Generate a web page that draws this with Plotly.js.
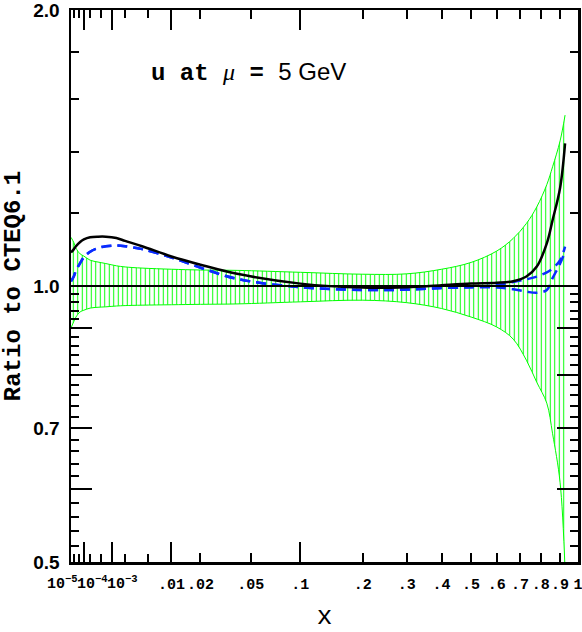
<!DOCTYPE html>
<html>
<head>
<meta charset="utf-8">
<script src="https://cdn.plot.ly/plotly-3.0.1.min.js"></script>
<style>
  body { margin: 0; background: #fff; }
  #chart { width: 582px; height: 632px; }
</style>
</head>
<body>
<div id="chart"></div>
<script>
// x positions (momentum fraction) shared by the band and the curves
const xVals = [1e-5, 2e-5, 3e-5, 6e-5, 1e-4, 2e-4, 4e-4, 7e-4, 1.3e-3, 2e-3, 4e-3,
               0.01, 0.02, 0.04, 0.1, 0.2, 0.3, 0.4, 0.5, 0.6, 0.67, 0.73, 0.78, 0.83, 0.86, 0.9, 0.927];

// CTEQ6.1 uncertainty band
const bandUpper = [1.13, 1.115, 1.10, 1.084, 1.078, 1.067, 1.062, 1.058, 1.052, 1.049, 1.046,
                   1.043, 1.041, 1.040, 1.035, 1.030, 1.031, 1.043, 1.061, 1.092, 1.127, 1.17, 1.22, 1.29, 1.349, 1.44, 1.536];
const bandLower = [0.90, 0.915, 0.925, 0.937, 0.941, 0.946, 0.948, 0.949, 0.951, 0.952, 0.953,
                   0.954, 0.955, 0.956, 0.961, 0.965, 0.959, 0.945, 0.925, 0.902, 0.875, 0.83, 0.785, 0.745, 0.69, 0.61, 0.49];

// solid black curve
const blackRatio = [1.088, 1.097, 1.105, 1.117, 1.124, 1.13, 1.132, 1.132, 1.128, 1.12, 1.105,
                    1.077, 1.055, 1.031, 1.006, 0.996, 0.997, 1.002, 1.006, 1.008, 1.012, 1.024, 1.05, 1.113, 1.18, 1.28, 1.431];

// two blue dashed curves (same until x ~ 0.5)
const blueA = [1.012, 1.025, 1.04, 1.059, 1.075, 1.09, 1.10, 1.105, 1.107, 1.105, 1.097,
               1.074, 1.047, 1.018, 0.997, 0.99, 0.991, 0.995, 0.997, 1.003, 1.01, 1.017, 1.024, 1.035, 1.045, 1.067, 1.104];
const blueB = [1.012, 1.025, 1.04, 1.059, 1.075, 1.09, 1.10, 1.105, 1.107, 1.105, 1.097,
               1.074, 1.047, 1.018, 0.997, 0.99, 0.991, 0.995, 0.997, 0.996, 0.992, 0.986, 0.983, 0.99, 1.02, 1.058, 1.09];

// reference line at ratio 1
const refX = [1e-5, 1];
const refY = [1, 1];

// axis ticks
const xTickVals = [0.01, 0.02, 0.05, 0.1, 0.2, 0.3, 0.4, 0.5, 0.6, 0.7, 0.8, 0.9, 1];
const xTickText = ['.01', '.02', '.05', '.1', '.2', '.3', '.4', '.5', '.6', '.7', '.8', '.9', '1'];
const xMinorVals = [2e-5, 5e-5, 2e-4, 5e-4, 2e-3, 5e-3];
const xDecades = [1e-4, 1e-3, 0.01, 0.1];
const xDecadeText = ['10<sup>−5</sup>', '10<sup>−4</sup>', '10<sup>−3</sup>'];

const yTickVals = [0.5, 0.6, 0.7, 0.8, 0.9, 1.0, 2.0];
const yTickText = ['0.5', '', '0.7', '', '', '1.0', '2.0'];
const yMinorVals = [0.52, 0.54, 0.56, 0.58, 0.62, 0.64, 0.66, 0.68, 0.72, 0.74, 0.76, 0.78,
                    0.82, 0.84, 0.86, 0.88, 0.92, 0.94, 0.96, 0.98, 1.2, 1.4, 1.6, 1.8];

// x axis is drawn in x^(1/3), y axis in log10(ratio)
const tx = v => Math.cbrt(v);
const ty = v => Math.log10(v);
const u = xVals.map(tx);

const green = '#00ff00';
const blue = '#0a2cff';

const traces = [
  {
    x: u, y: bandLower.map(ty), mode: 'lines', type: 'scatter',
    line: { color: green, width: 1, shape: 'spline' }, hoverinfo: 'skip'
  },
  {
    x: u, y: bandUpper.map(ty), mode: 'lines', type: 'scatter', fill: 'tonexty',
    fillcolor: 'rgba(0,0,0,0)',
    fillpattern: { shape: '|', size: 4.5, solidity: 0.22, fgcolor: green, bgcolor: 'rgba(255,255,255,0)' },
    line: { color: green, width: 1, shape: 'spline' }, hoverinfo: 'skip'
  },
  {
    x: refX.map(tx), y: refY.map(ty), xaxis: 'x2', yaxis: 'y2', mode: 'lines', type: 'scatter',
    line: { color: '#000', width: 2.2 }
  },
  {
    x: u, y: blueA.map(ty), mode: 'lines', type: 'scatter',
    line: { color: blue, width: 2.5, dash: '10px,6px', shape: 'spline' }
  },
  {
    x: u, y: blueB.map(ty), mode: 'lines', type: 'scatter',
    line: { color: blue, width: 2.5, dash: '10px,6px', shape: 'spline' }
  },
  {
    x: u, y: blackRatio.map(ty), mode: 'lines', type: 'scatter',
    line: { color: '#000', width: 2.5, shape: 'spline' }
  }
];

const xRange = [tx(1e-5) - 1e-6, 1 + 1e-6];
const yRange = [ty(0.5) - 1e-6, ty(2) + 1e-6];
const plotLeft = 71, plotWidth = 507, plotBottom = 562, plotHeight = 552;
const labelCenters = [62, 92, 122];

const tickFont = { family: 'Liberation Mono', size: 15, weight: 'bold', color: '#000' };

const annotations = xDecadeText.map((t, i) => ({
  text: t, xref: 'paper', yref: 'paper',
  x: (labelCenters[i] - plotLeft) / plotWidth, y: (plotBottom - 571) / plotHeight,
  xanchor: 'center', yanchor: 'top', showarrow: false,
  font: tickFont
}));

annotations.push({
  text: '<b>u at</b> <i><span style="font-family:Liberation Serif">μ</span></i> <b>=</b> <span style="font-family:Liberation Sans">5 GeV</span>',
  xref: 'paper', yref: 'paper',
  x: (149 - plotLeft) / plotWidth, y: (plotBottom - 72) / plotHeight,
  xanchor: 'left', yanchor: 'middle', showarrow: false,
  font: { family: 'Liberation Mono', size: 24, color: '#000' }
});

const layout = {
  width: 582, height: 632,
  margin: { l: 71, r: 4, t: 10, b: 70 },
  paper_bgcolor: '#fff', plot_bgcolor: '#fff',
  showlegend: false,
  xaxis: {
    range: xRange, tickmode: 'array',
    tickvals: xTickVals.map(tx), ticktext: xTickText, tickangle: 0,
    ticklabeloverflow: 'allow',
    ticks: 'inside', ticklen: 9, tickwidth: 2, tickcolor: '#000',
    showline: true, linewidth: 2.5, linecolor: '#000', mirror: 'allticks',
    showgrid: false, zeroline: false, ticklabelstandoff: 6,
    tickfont: tickFont,
    minor: {
      tickmode: 'array', tickvals: xMinorVals.map(tx),
      ticks: 'inside', ticklen: 8, tickwidth: 2, tickcolor: '#000', showgrid: false
    },
    title: { text: 'x', font: { family: 'Liberation Mono', size: 26, color: '#000' }, standoff: 18 }
  },
  xaxis2: {
    overlaying: 'x', anchor: 'y2', side: 'bottom', range: xRange,
    tickmode: 'array', tickvals: xDecades.map(tx),
    ticks: 'inside', ticklen: 20, tickwidth: 2, tickcolor: '#000',
    showticklabels: false, mirror: 'ticks', showline: false,
    showgrid: false, zeroline: false
  },
  yaxis: {
    range: yRange,
    tickmode: 'array', tickvals: yTickVals.map(ty), ticktext: yTickText,
    ticklabeloverflow: 'allow',
    ticks: 'inside', ticklen: 21, tickwidth: 2, tickcolor: '#000',
    showline: true, linewidth: 2.5, linecolor: '#000', mirror: 'allticks',
    showgrid: false, zeroline: false, ticklabelstandoff: 5,
    tickfont: { family: 'Liberation Sans', size: 19, weight: 'bold', color: '#000' },
    title: { text: 'Ratio to CTEQ6.1', font: { family: 'Liberation Mono', size: 24, weight: 'bold', color: '#000' }, standoff: 12 }
  },
  yaxis2: {
    overlaying: 'y', anchor: 'x2', side: 'left', range: yRange,
    tickmode: 'array', tickvals: yMinorVals.map(ty),
    ticks: 'inside', ticklen: 8, tickwidth: 2, tickcolor: '#000',
    showticklabels: false, mirror: 'ticks', showline: false,
    showgrid: false, zeroline: false
  },
  annotations: annotations
};

Plotly.newPlot('chart', traces, layout, { staticPlot: true });
</script>
</body>
</html>
